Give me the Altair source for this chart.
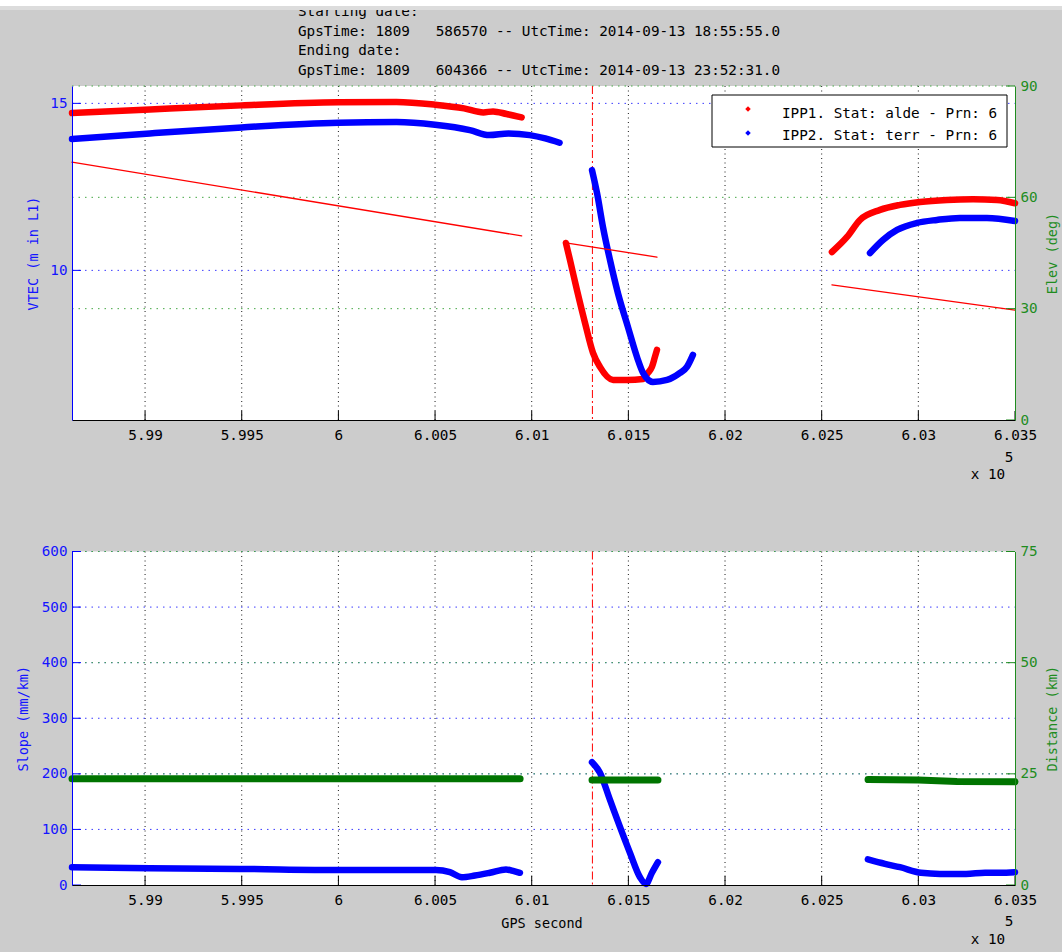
import json

import altair as alt
import pandas as pd

# ---------------- axis extents, ticks and labels ----------------
x_domain = [598622, 603500]
x_ticks = [599000, 599500, 600000, 600500, 601000, 601500, 602000, 602500, 603000, 603500]
x_tick_labels = ["5.99", "5.995", "6", "6.005", "6.01", "6.015", "6.02", "6.025", "6.03", "6.035"]

vtec_domain = [5.52, 15.52]
vtec_ticks = [10, 15]
elev_domain = [0, 90]
elev_ticks = [0, 30, 60, 90]
slope_domain = [0, 600]
slope_ticks = [0, 100, 200, 300, 400, 500, 600]
dist_domain = [0, 75]
dist_ticks = [0, 25, 50, 75]

event_second = [601314]

# non-breaking spaces keep the column gap in SVG text
GAP = "\u00a0\u00a0\u00a0"
header_lines = [
    "Starting date:",
    f"GpsTime: 1809{GAP}586570 -- UtcTime: 2014-09-13 18:55:55.0",
    "Ending date:",
    f"GpsTime: 1809{GAP}604366 -- UtcTime: 2014-09-13 23:52:31.0",
]
legend_labels = ["IPP1. Stat: alde - Prn: 6", "IPP2. Stat: terr - Prn: 6"]

# ---------------- series (GPS second, value), one list per pass ----------------
# VTEC at IPP1, station alde
ipp1_sec_1 = [598622, 599025, 599500, 600000, 600300, 600500, 600650, 600750, 600800, 600870, 600948]
ipp1_vtec_1 = [14.71, 14.82, 14.94, 15.03, 15.04, 14.96, 14.85, 14.73, 14.76, 14.68, 14.58]
ipp1_sec_2 = [601177, 601198, 601234, 601276, 601317, 601353, 601421, 601493, 601576, 601601, 601622, 601637, 601648]
ipp1_vtec_2 = [10.82, 10.31, 9.41, 8.42, 7.53, 7.11, 6.72, 6.72, 6.75, 6.93, 7.11, 7.40, 7.62]
ipp1_sec_3 = [602553, 602631, 602698, 602802, 602905, 603009, 603148, 603283, 603407, 603500]
ipp1_vtec_3 = [10.55, 11.00, 11.51, 11.81, 11.96, 12.05, 12.11, 12.13, 12.11, 12.01]

# VTEC at IPP2, station terr
ipp2_sec_1 = [598622, 599025, 599500, 600000, 600300, 600500, 600680, 600780, 600880, 600990, 601070, 601144]
ipp2_vtec_1 = [13.93, 14.10, 14.28, 14.42, 14.44, 14.36, 14.20, 14.05, 14.10, 14.05, 13.95, 13.82]
ipp2_sec_2 = [601312, 601338, 601369, 601405, 601446, 601498, 601545, 601576, 601627, 601700, 601767, 601803, 601834]
ipp2_vtec_2 = [13.00, 12.31, 11.29, 10.31, 9.32, 8.30, 7.40, 6.93, 6.66, 6.72, 6.93, 7.11, 7.47]
ipp2_sec_3 = [602750, 602817, 602890, 602993, 603096, 603215, 603355, 603500]
ipp2_vtec_3 = [10.52, 10.91, 11.21, 11.42, 11.51, 11.57, 11.57, 11.48]

# Satellite elevation seen from IPP1
elev_sec_1 = [598622, 600948]
elev_deg_1 = [69.5, 49.6]
elev_sec_2 = [601177, 601648]
elev_deg_2 = [47.7, 43.9]
elev_sec_3 = [602553, 603500]
elev_deg_3 = [36.4, 29.6]

# Slope between the two pierce points
slope_sec_1 = [598622, 599025, 599491, 600008, 600319, 600505, 600577, 600639, 600706, 600784, 600867, 600908, 600939]
slope_val_1 = [32, 30, 29, 27, 27, 27, 23, 14, 17, 22, 28, 25, 22]
slope_sec_2 = [601312, 601353, 601405, 601457, 601508, 601560, 601591, 601622, 601653]
slope_val_2 = [221, 202, 153, 104, 58, 14, 2, 22, 41]
slope_sec_3 = [602739, 602827, 602905, 603014, 603112, 603247, 603345, 603422, 603500]
slope_val_3 = [46, 38, 32, 22, 20, 20, 22, 22, 23]

# Distance between the two pierce points
dist_sec_1 = [598622, 600940]
dist_km_1 = [23.9, 23.9]
dist_sec_2 = [601312, 601653]
dist_km_2 = [23.6, 23.6]
dist_sec_3 = [602740, 603000, 603200, 603500]
dist_km_3 = [23.7, 23.6, 23.3, 23.2]

# ---------------- layout and style ----------------
W = 943                      # plot width
TOP = (0, 334)               # upper panel, pixel rows
BOT = (465.5, 799)           # lower panel, pixel rows
MONO = "DejaVu Sans Mono"
FS = 14.3
BG = "#cccccc"
RED = "#ff0000"
BLUE = "#0000ff"
BLUE_TXT = "#1414ff"
BLUE_GRID = "#3a3aff"
GREEN = "#1f8c1f"
GREEN_GRID = "#44a844"
GREEN_LINE = "#007400"

x_scale = alt.Scale(domain=x_domain, nice=False, zero=False)
vtec_scale = alt.Scale(domain=vtec_domain, range=[TOP[1], TOP[0]], nice=False, zero=False)
elev_scale = alt.Scale(domain=elev_domain, range=[TOP[1], TOP[0]], nice=False, zero=False)
slope_scale = alt.Scale(domain=slope_domain, range=[BOT[1], BOT[0]], nice=False, zero=False)
dist_scale = alt.Scale(domain=dist_domain, range=[BOT[1], BOT[0]], nice=False, zero=False)

one = pd.DataFrame({"k": [0]})


def segments(*pairs):
    rows = []
    for i, (secs, vals) in enumerate(pairs):
        rows += [{"sec": s, "val": v, "seg": i} for s, v in zip(secs, vals)]
    return pd.DataFrame(rows)


def xenc(axis=None, title=None):
    return alt.X("sec:Q", scale=x_scale, axis=axis, title=title)


def series(df, color, scale, width, axis=None, title=None, xaxis=None, xtitle=None, curve="monotone"):
    return alt.Chart(df).mark_line(
        color=color, strokeWidth=width, strokeCap="round", strokeJoin="round", interpolate=curve
    ).encode(
        x=xenc(xaxis, xtitle),
        y=alt.Y("val:Q", scale=scale, axis=axis, title=title),
        detail="seg:N",
    )


def box(x0, x1, y0, y1, **mark):
    return alt.Chart(one).mark_rect(**mark).encode(
        x=alt.value(x0), x2=alt.value(x1), y=alt.value(y0), y2=alt.value(y1)
    )


def label(text, x, y, align="left", size=FS, color="black"):
    return alt.Chart(one).mark_text(
        align=align, baseline="middle", font=MONO, fontSize=size, color=color
    ).encode(x=alt.value(x), y=alt.value(y), text=alt.value(text))


def vgrid(panel):
    return alt.Chart(pd.DataFrame({"sec": x_ticks[:-1]})).mark_rule(
        color="#1a1a1a", strokeWidth=1, strokeDash=[1, 3.5]
    ).encode(x=xenc(), y=alt.value(panel[0]), y2=alt.value(panel[1]))


def hgrid(ticks, scale, color):
    return alt.Chart(pd.DataFrame({"val": ticks})).mark_rule(
        color=color, strokeWidth=1, strokeDash=[1.5, 5]
    ).encode(y=alt.Y("val:Q", scale=scale, axis=None), x=alt.value(0), x2=alt.value(W))


def xticks_in(panel):
    return alt.Chart(pd.DataFrame({"sec": x_ticks})).mark_rule(color="black").encode(
        x=xenc(), y=alt.value(panel[1]), y2=alt.value(panel[1] - 9)
    )


def yticks_in(ticks, scale, color, side):
    x0, x1 = (0, 9) if side == "left" else (W - 9, W)
    return alt.Chart(pd.DataFrame({"val": ticks})).mark_rule(color=color).encode(
        y=alt.Y("val:Q", scale=scale, axis=None), x=alt.value(x0), x2=alt.value(x1)
    )


def event_rule(panel):
    return alt.Chart(pd.DataFrame({"sec": event_second})).mark_rule(
        color=RED, strokeWidth=1, strokeDash=[8, 3, 2, 3]
    ).encode(x=xenc(), y=alt.value(panel[0]), y2=alt.value(panel[1]))


axis_common = dict(
    ticks=False, grid=False, labelFont=MONO, labelFontSize=FS, titleFont=MONO,
    titleFontSize=13.5, titleFontWeight="normal", domainWidth=1, zindex=2,
    labelOverlap=False,
)


def y_axis(orient, ticks, color, txt, title_x, title_y):
    return alt.Axis(
        orient=orient, values=ticks, domainColor=color, labelColor=txt, titleColor=txt,
        labelPadding=5, titleX=title_x, titleY=title_y, titleAngle=270,
        titleAlign="center", titleBaseline="middle", **axis_common,
    )


x_label_expr = f"{json.dumps(x_tick_labels)}[indexof({json.dumps(x_ticks)}, datum.value)]"


def x_axis(offset, with_title):
    extra = dict(titleX=W / 2 - 2, titleY=38, titleAlign="center", titleBaseline="middle",
                 titleColor="black") if with_title else {}
    return alt.Axis(
        orient="bottom", values=x_ticks, labelExpr=x_label_expr, offset=offset,
        domainColor="black", labelColor="black", labelPadding=8, labelFlush=False,
        **extra, **axis_common,
    )


top_mid = (TOP[0] + TOP[1]) / 2
bot_mid = (BOT[0] + BOT[1]) / 2

vtec1 = segments((ipp1_sec_1, ipp1_vtec_1), (ipp1_sec_2, ipp1_vtec_2), (ipp1_sec_3, ipp1_vtec_3))
vtec2 = segments((ipp2_sec_1, ipp2_vtec_1), (ipp2_sec_2, ipp2_vtec_2), (ipp2_sec_3, ipp2_vtec_3))
elev = segments((elev_sec_1, elev_deg_1), (elev_sec_2, elev_deg_2), (elev_sec_3, elev_deg_3))
slope = segments((slope_sec_1, slope_val_1), (slope_sec_2, slope_val_2), (slope_sec_3, slope_val_3))
dist = segments((dist_sec_1, dist_km_1), (dist_sec_2, dist_km_2), (dist_sec_3, dist_km_3))

layers = [
    # panel backgrounds
    box(0, W, TOP[0], TOP[1], color="white"),
    box(0, W, BOT[0], BOT[1], color="white"),
    # dotted grids
    vgrid(TOP), vgrid(BOT),
    hgrid(vtec_ticks, vtec_scale, BLUE_GRID),
    hgrid(elev_ticks[1:], elev_scale, GREEN_GRID),
    hgrid(slope_ticks[1:], slope_scale, BLUE_GRID),
    hgrid(dist_ticks[1:], dist_scale, GREEN_GRID),
    # event marker
    event_rule(TOP), event_rule(BOT),
    # upper panel: VTEC and elevation
    series(vtec1, RED, vtec_scale, 6.5,
           axis=y_axis("left", vtec_ticks, BLUE, BLUE_TXT, -39, top_mid), title="VTEC (m in L1)",
           xaxis=x_axis(-(BOT[1] - TOP[1]), False)),
    series(vtec2, BLUE, vtec_scale, 6.5),
    series(elev, RED, elev_scale, 1.3, curve="linear",
           axis=y_axis("right", elev_ticks, GREEN, GREEN, 37.5, top_mid), title="Elev (deg)"),
    # lower panel: slope and distance
    series(slope, BLUE, slope_scale, 6.5,
           axis=y_axis("left", slope_ticks, BLUE, BLUE_TXT, -48.5, bot_mid), title="Slope (mm/km)",
           xaxis=x_axis(0, True), xtitle="GPS second"),
    series(dist, GREEN_LINE, dist_scale, 7, curve="linear",
           axis=y_axis("right", dist_ticks, GREEN, GREEN, 37.5, bot_mid), title="Distance (km)"),
    # inward tick marks
    xticks_in(TOP), xticks_in(BOT),
    yticks_in(vtec_ticks, vtec_scale, BLUE, "left"),
    yticks_in(elev_ticks, elev_scale, GREEN, "right"),
    yticks_in(slope_ticks, slope_scale, BLUE, "left"),
    yticks_in(dist_ticks, dist_scale, GREEN, "right"),
    # legend
    box(640, 935, 9, 61, fill="white", stroke="black", strokeWidth=1),
    alt.Chart(one).mark_point(filled=True, shape="diamond", size=30, color=RED, opacity=1).encode(
        x=alt.value(676), y=alt.value(23)),
    alt.Chart(one).mark_point(filled=True, shape="diamond", size=30, color=BLUE, opacity=1).encode(
        x=alt.value(676), y=alt.value(47)),
    label(legend_labels[0], 710, 27.5),
    label(legend_labels[1], 710, 50),
    # exponent notes under the x axes
    label("x 10", 916, 389, align="center"),
    label("5", 937, 372, align="center"),
    label("x 10", 916, 854, align="center"),
    label("5", 937, 836, align="center"),
]

# header lines above the upper panel
for i, line in enumerate(header_lines):
    layers.append(label(line, 226, -73.8 + 19.5 * i))
layers.append(box(-72, W + 47, -86, -80, color="white"))
layers.append(box(-72, W + 47, -80, -76, color="#dcdcdc"))

chart = alt.layer(*layers).resolve_scale(y="independent").resolve_axis(
    x="independent", y="independent"
).properties(
    width=W,
    height=BOT[1],
    autosize=alt.AutoSizeParams(type="none"),
    padding={"left": 72, "top": 86, "right": 47, "bottom": 67},
).configure(background=BG).configure_view(strokeWidth=0)

chart.save("out.html", embed_options={"renderer": "svg", "actions": False})
